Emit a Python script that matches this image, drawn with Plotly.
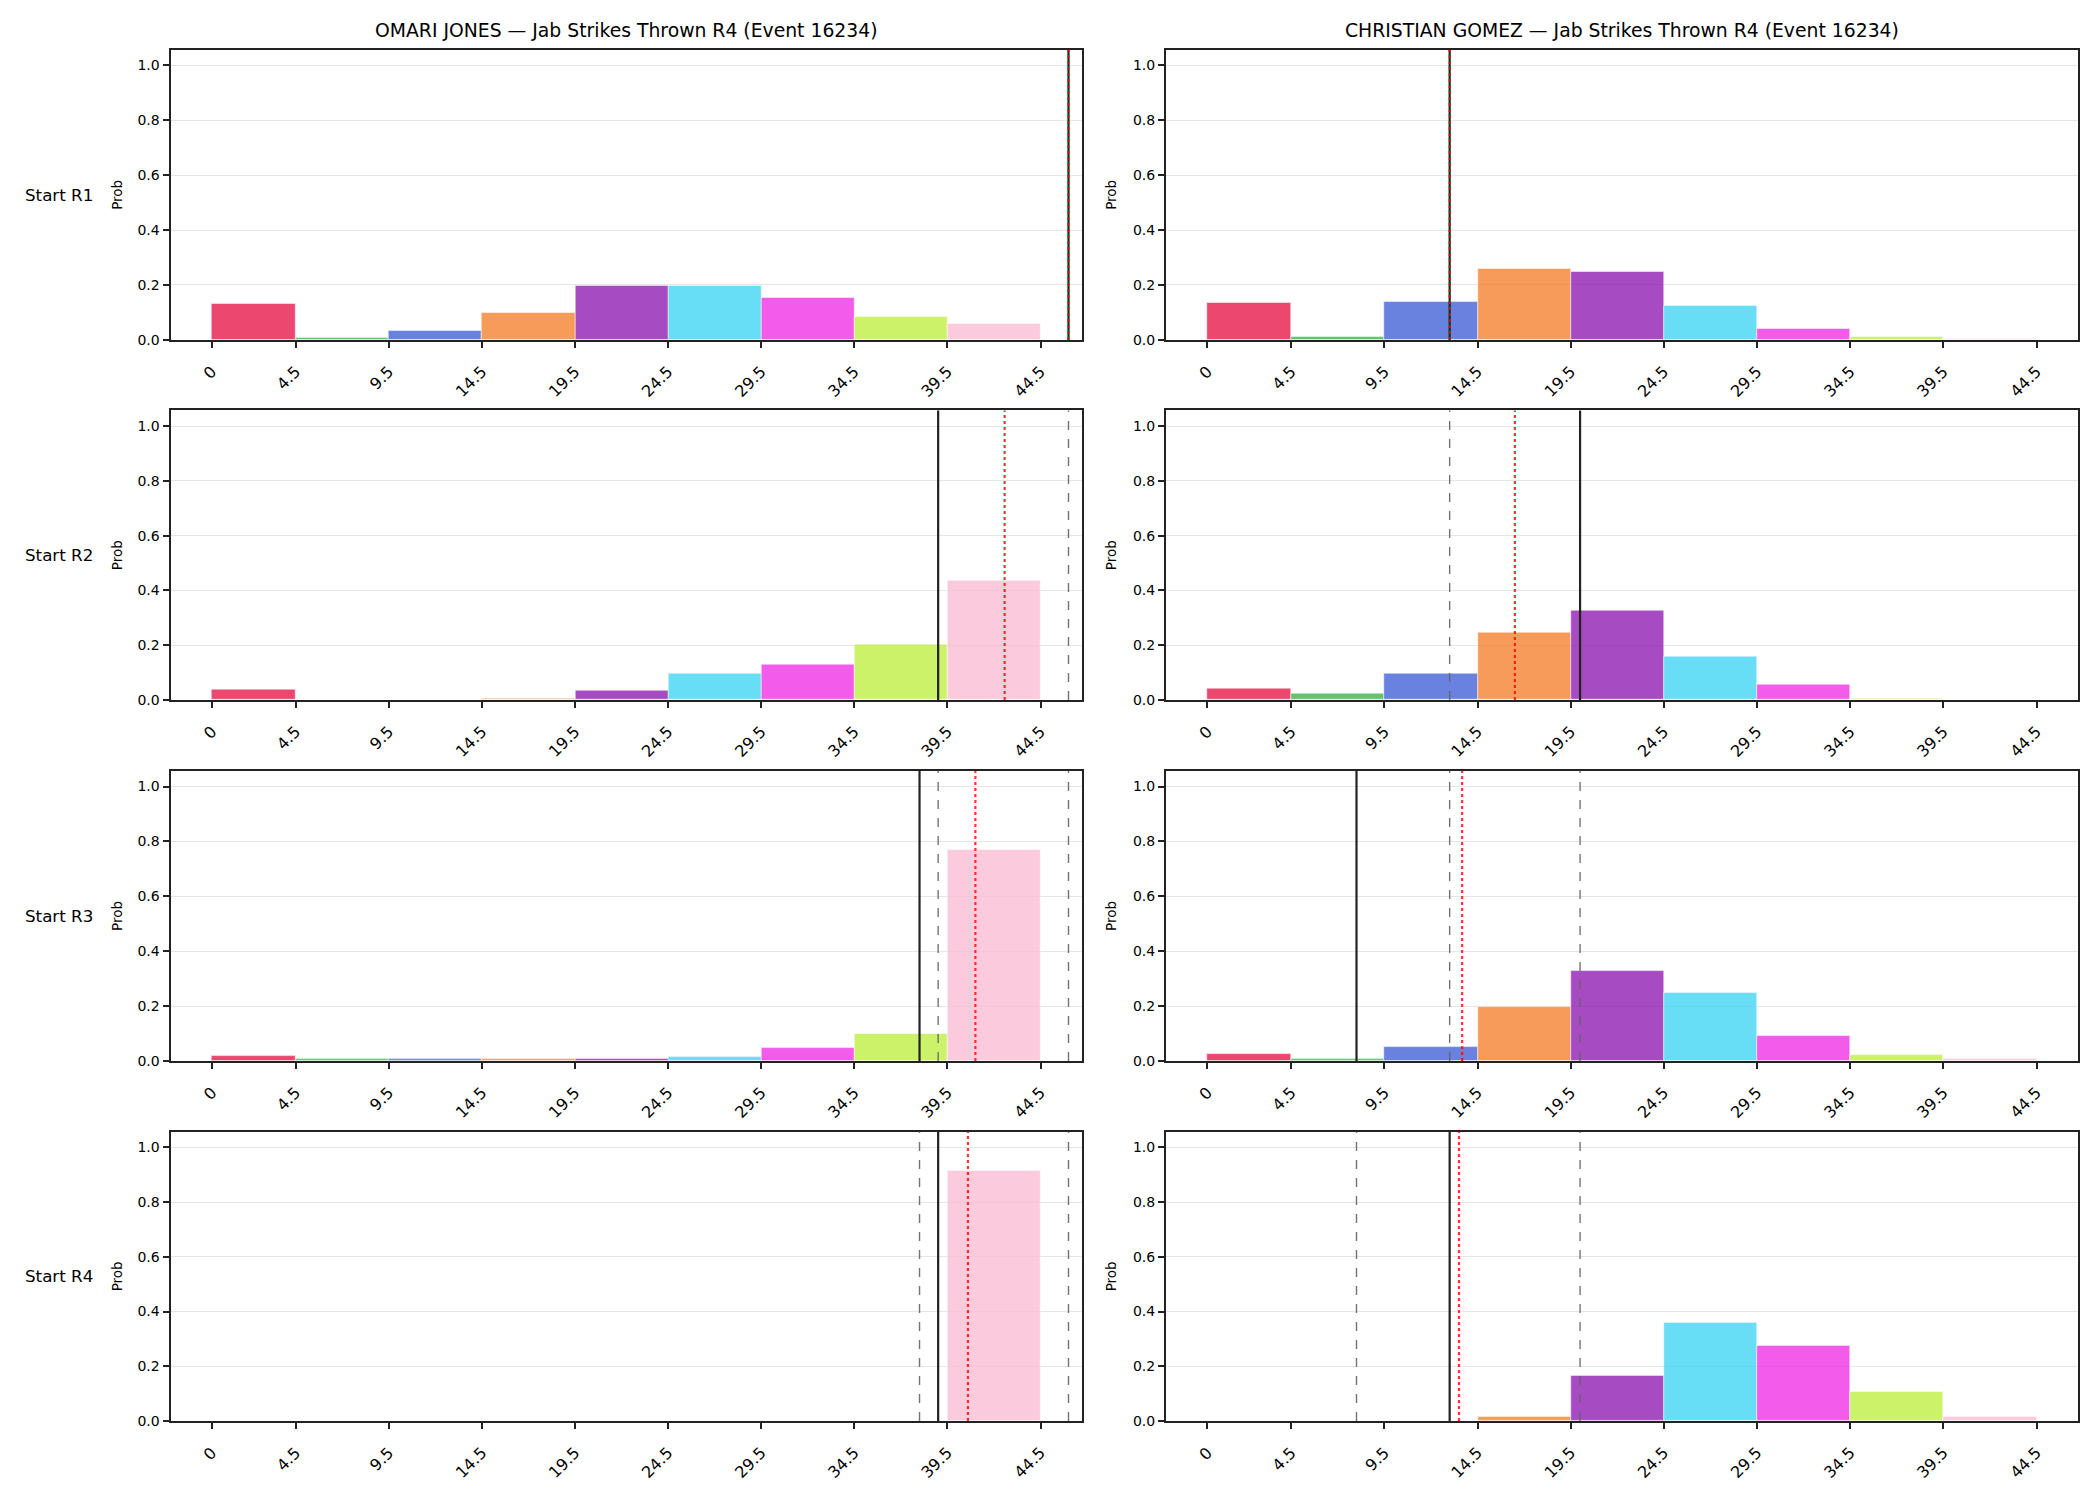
import plotly.graph_objects as go

# ---------------- data ----------------
bin_edges = [0, 4.5, 9.5, 14.5, 19.5, 24.5, 29.5, 34.5, 39.5, 44.5]
tick_labels = ["0", "4.5", "9.5", "14.5", "19.5", "24.5", "29.5", "34.5", "39.5", "44.5"]
row_labels = ["Start R1", "Start R2", "Start R3", "Start R4"]
fighters = ["OMARI JONES", "CHRISTIAN GOMEZ"]
title_suffix = " — Jab Strikes Thrown R4 (Event 16234)"

bar_colors = ["#e6194b", "#3cb44b", "#4363d8", "#f58231", "#911eb4",
              "#42d4f4", "#f032e6", "#bfef45", "#fabed4"]

jones_probs = [
    [0.131, 0.008, 0.035, 0.100, 0.198, 0.196, 0.155, 0.086, 0.060],
    [0.038, 0.002, 0.002, 0.006, 0.033, 0.098, 0.131, 0.203, 0.437],
    [0.018, 0.007, 0.007, 0.007, 0.008, 0.015, 0.047, 0.098, 0.768],
    [0.003, 0.002, 0.002, 0.003, 0.003, 0.002, 0.003, 0.002, 0.916],
]
gomez_probs = [
    [0.134, 0.013, 0.138, 0.261, 0.247, 0.123, 0.039, 0.010, 0.006],
    [0.040, 0.022, 0.098, 0.248, 0.328, 0.157, 0.055, 0.006, 0.001],
    [0.025, 0.007, 0.051, 0.196, 0.330, 0.247, 0.091, 0.022, 0.007],
    [0.003, 0.002, 0.002, 0.017, 0.167, 0.360, 0.277, 0.106, 0.015],
]

jones_actual = [46.0, 39.0, 38.0, 39.0]
jones_proj = [46.0, 42.57, 41.0, 40.6]
jones_prev = [[], [46.0], [39.0, 46.0], [38.0, 46.0]]

gomez_actual = [13.0, 20.0, 8.0, 13.0]
gomez_proj = [13.0, 16.5, 13.67, 13.5]
gomez_prev = [[], [13.0], [13.0, 20.0], [8.0, 20.0]]

probs = [jones_probs, gomez_probs]
actuals = [jones_actual, gomez_actual]
projs = [jones_proj, gomez_proj]
prevs = [jones_prev, gomez_prev]

# ---------------- layout geometry ----------------
W, H = 2100, 1500
col_x = [(170.5, 1082.0), (1166.0, 2078.0)]
row_y = [(50.0, 341.7), (412.7, 703.7), (775.0, 1066.7), (1137.7, 1428.7)]
FONT = "DejaVu Sans"

def hex_rgba(h, a):
    h = h.lstrip("#")
    return "rgba(%d,%d,%d,%.2f)" % (int(h[0:2], 16), int(h[2:4], 16), int(h[4:6], 16), a)

centers = [(bin_edges[i] + bin_edges[i + 1]) / 2 for i in range(len(bin_edges) - 1)]
widths = [bin_edges[i + 1] - bin_edges[i] for i in range(len(bin_edges) - 1)]
span = bin_edges[-1] - bin_edges[0]
xrange_ = [bin_edges[0] - 0.05 * span, bin_edges[-1] + 0.05 * span]

fig = go.Figure()
layout = dict(
    width=W, height=H, margin=dict(l=0, r=0, t=0, b=0),
    paper_bgcolor="white", plot_bgcolor="white", showlegend=False,
    font=dict(family=FONT, size=14, color="black"),
    bargap=0,
)
shapes = []
annotations = []

for r in range(4):
    for c in range(2):
        idx = r * 2 + c + 1
        xa = "x" if idx == 1 else "x%d" % idx
        ya = "y" if idx == 1 else "y%d" % idx
        fig.add_trace(go.Bar(
            x=centers, y=probs[c][r], width=widths,
            marker=dict(color=[hex_rgba(col, 0.8) for col in bar_colors],
                        line=dict(color="white", width=0.5)),
            xaxis=xa, yaxis=ya, hoverinfo="x+y",
        ))
        x0, x1 = col_x[c]
        y0, y1 = row_y[r]
        layout["xaxis%d" % idx] = dict(
            domain=[x0 / W, x1 / W], anchor=ya, range=xrange_,
            tickvals=bin_edges, ticktext=tick_labels, tickangle=-45,
            ticks="outside", ticklen=6, tickwidth=1.6, tickcolor="#222",
            ticklabelstandoff=8,
            showline=True, linecolor="#222", linewidth=2, mirror=True,
            showgrid=False, zeroline=False,
            tickfont=dict(family=FONT, size=16, color="black"),
        )
        layout["yaxis%d" % idx] = dict(
            domain=[1 - y1 / H, 1 - y0 / H], anchor=xa, range=[0, 1.057],
            tickvals=[0, 0.2, 0.4, 0.6, 0.8, 1.0], tickformat=".1f",
            ticks="outside", ticklen=6, tickwidth=1.6, tickcolor="#222",
            showline=True, linecolor="#222", linewidth=2, mirror=True,
            showgrid=True, gridcolor="#e6e6e6", gridwidth=1, zeroline=False,
            tickfont=dict(family=FONT, size=14, color="black"),
        )
        # reference lines
        for xv in prevs[c][r]:
            shapes.append(dict(type="line", xref=xa, yref="%s domain" % ya,
                               x0=xv, x1=xv, y0=0, y1=1,
                               line=dict(color="rgba(100,100,100,0.9)", width=1.4, dash="dash"),
                               layer="above"))
        shapes.append(dict(type="line", xref=xa, yref="%s domain" % ya,
                           x0=actuals[c][r], x1=actuals[c][r], y0=0, y1=1,
                           line=dict(color="#222", width=2.2), layer="above"))
        shapes.append(dict(type="line", xref=xa, yref="%s domain" % ya,
                           x0=projs[c][r], x1=projs[c][r], y0=0, y1=1,
                           line=dict(color="rgba(255,0,0,0.8)", width=2.2, dash="dot"),
                           layer="above"))
        # y label
        lab_x = 117 if c == 0 else 1111
        annotations.append(dict(text="Prob", xref="paper", yref="paper",
                                x=lab_x / W, y=1 - (y0 + y1) / 2 / H,
                                textangle=-90, showarrow=False,
                                xanchor="center", yanchor="middle",
                                font=dict(family=FONT, size=13.5, color="black")))
    # row label
    y0, y1 = row_y[r]
    annotations.append(dict(text=row_labels[r], xref="paper", yref="paper",
                            x=23 / W, y=1 - (y0 + y1) / 2 / H,
                            showarrow=False, xanchor="left", yanchor="middle",
                            font=dict(family=FONT, size=16.7, color="black")))

for c in range(2):
    x0, x1 = col_x[c]
    annotations.append(dict(text=fighters[c] + title_suffix, xref="paper", yref="paper",
                            x=(x0 + x1) / 2 / W, y=1 - 31 / H, showarrow=False,
                            xanchor="center", yanchor="middle",
                            font=dict(family=FONT, size=18.8, color="black")))

layout["shapes"] = shapes
layout["annotations"] = annotations
fig.update_layout(**layout)
fig.write_html("out.html")
